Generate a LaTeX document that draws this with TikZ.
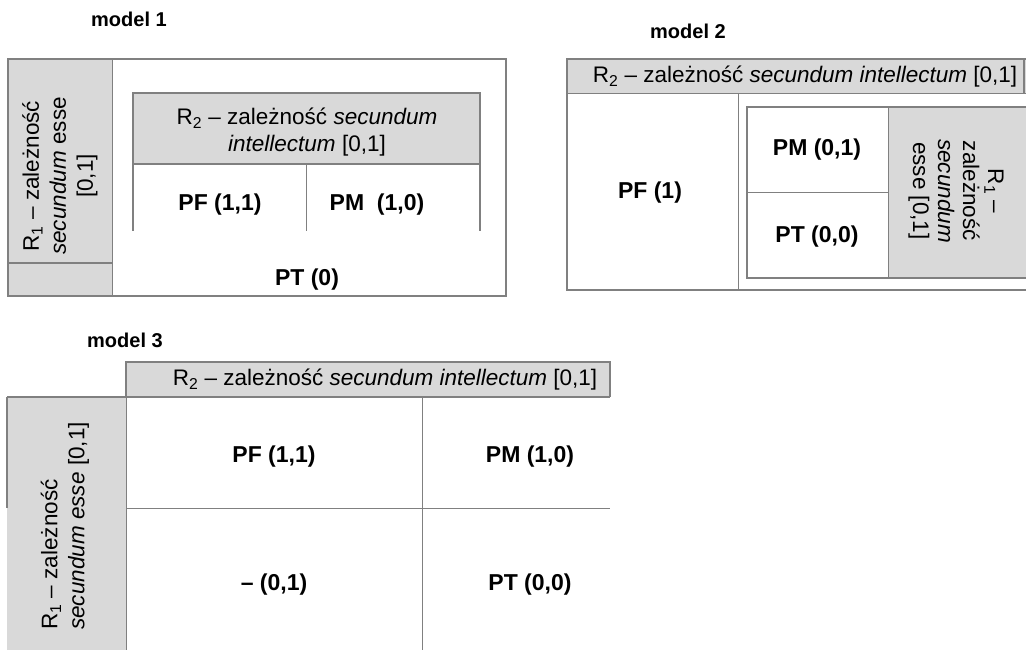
\documentclass[tikz,border=0pt]{standalone}
\usepackage{fontspec}
\setmainfont{Liberation Sans}
\definecolor{cellgrey}{HTML}{D9D9D9}
\definecolor{linegrey}{HTML}{808080}
\tikzset{
  bordA/.style={draw=linegrey, line width=2pt},
  bordB/.style={draw=linegrey, line width=1.4pt},
  bordC/.style={draw=linegrey, line width=1pt},
  txt/.style={font=\fontsize{22.5}{27}\selectfont, align=center, inner sep=0pt},
  btxt/.style={font=\fontsize{23}{27}\selectfont\bfseries, align=center, inner sep=0pt},
  ttl/.style={font=\fontsize{20}{24}\selectfont\bfseries, inner sep=0pt}
}
\begin{document}
\begin{tikzpicture}[x=1pt,y=-1pt]
\useasboundingbox (0,0) rectangle (1026,650);
\clip (0,0) rectangle (1026,650);

% ---------- model 1 ----------
\node[ttl] (t1) at (129,19) {model 1};
\fill[cellgrey] (8,58.7) rectangle (112,296);
\draw[bordC] (112,58.7) -- (112,296);
\draw[bordA] (8,262.7) -- (112,262.7);
\draw[bordA] (8,58.7) rectangle (505.7,296);
\fill[cellgrey] (133,92.7) rectangle (480,164);
\draw[bordA] (133,230.7) -- (133,92.7) -- (480,92.7) -- (480,230.7);
\draw[bordB] (133,164) -- (480,164);
\draw[bordB] (306.7,164) -- (306.7,230.7);
\node[txt, rotate=90] (m1r1) at (60,176) {R\textsubscript{1} – zależność\\\itshape secundum\upshape{} esse\\{}[0,1]};
\node[txt] (m1r2) at (307,132) {R\textsubscript{2} – zależność \textit{secundum}\\\textit{intellectum} [0,1]};
\node[btxt] (m1pf) at (220,205) {PF (1,1)};
\node[btxt] (m1pm) at (377,205) {PM\ \ (1,0)};
\node[btxt] (m1pt) at (307,280) {PT (0)};

% ---------- model 2 ----------
\node[ttl] (t2) at (688,31) {model 2};
\fill[cellgrey] (567.3,59) rectangle (1030,93.3);
\draw[bordB] (567.3,93.3) -- (1030,93.3);
\draw[bordB] (1024,59) -- (1024,93.3);
\draw[bordA] (1030,59) -- (567.3,59) -- (567.3,289.5) -- (1030,289.5);
\draw[bordC] (738,93.3) -- (738,289.5);
\fill[cellgrey] (888,107) rectangle (1030,278);
\draw[bordB] (1030,107) -- (747,107) -- (747,278) -- (1030,278);
\draw[bordC] (888,107) -- (888,278);
\draw[bordC] (747,193) -- (888,193);
\node[txt] (m2r2) at (805,77) {R\textsubscript{2} – zależność \textit{secundum intellectum} [0,1]};
\node[btxt] (m2pf) at (650,193) {PF (1)};
\node[btxt] (m2pm) at (817,150) {PM (0,1)};
\node[btxt] (m2pt) at (817,237) {PT (0,0)};
\node[txt, rotate=-90, font=\fontsize{22.5}{25}\selectfont] (m2r1) at (956,191) {R\textsubscript{1} –\\zależność\\\textit{secundum}\\esse [0,1]};

% ---------- model 3 ----------
\node[ttl] (t3) at (125,340) {model 3};
\fill[cellgrey] (126,362) rectangle (610,397);
\draw[bordB] (126,397) -- (126,362) -- (610,362) -- (610,397);
\fill[cellgrey] (7,397) rectangle (126,660);
\draw[bordA] (7,397) -- (610,397);
\draw[bordA] (7,397) -- (7,508);
\draw[bordC] (126,397) -- (126,660);
\draw[bordC] (422,397) -- (422,660);
\draw[bordC] (126,508) -- (610,508);
\node[txt] (m3r2) at (385,380) {R\textsubscript{2} – zależność \textit{secundum intellectum} [0,1]};
\node[txt, rotate=90, align=left] (m3r1) at (65,526) {R\textsubscript{1} – zależność\\\textit{secundum esse} [0,1]};
\node[btxt] (m3a) at (274,457) {PF (1,1)};
\node[btxt] (m3b) at (530,457) {PM (1,0)};
\node[btxt] (m3c) at (274,585) {– (0,1)};
\node[btxt] (m3d) at (530,585) {PT (0,0)};
\end{tikzpicture}
\end{document}
